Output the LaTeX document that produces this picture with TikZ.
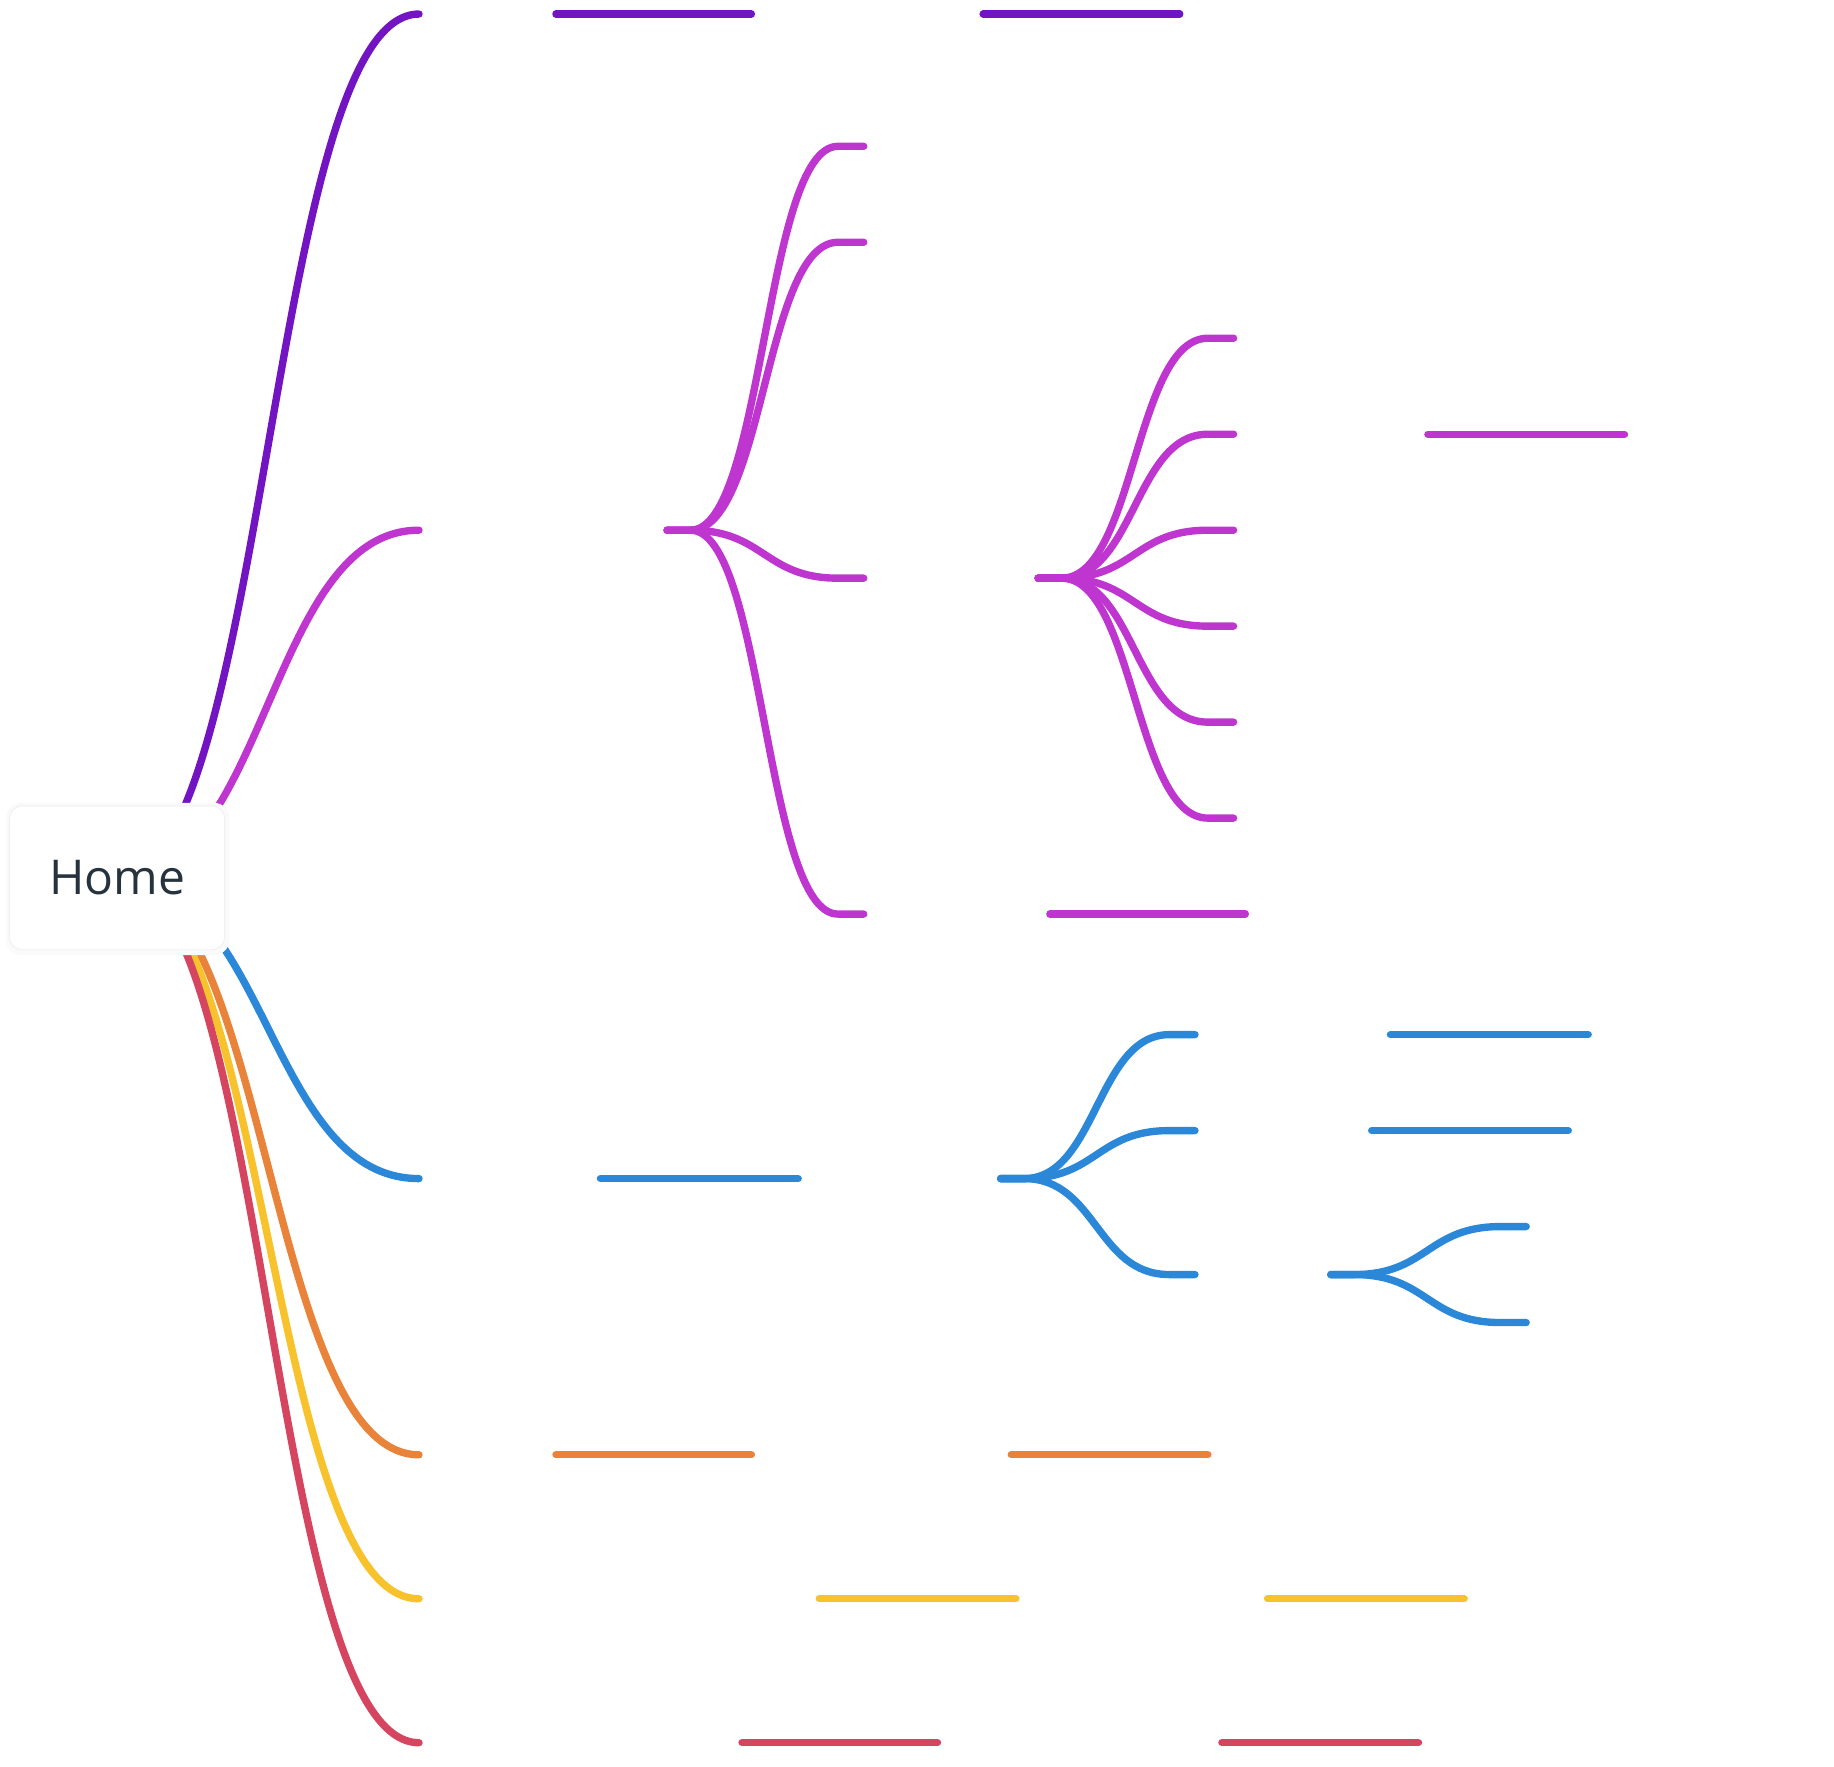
\documentclass[tikz,border=0pt]{standalone}
\usepackage{fontspec}
\setmainfont{Open Sans}
\usetikzlibrary{calc}
\definecolor{cpurple}{RGB}{115,20,195}
\definecolor{cmagenta}{RGB}{191,53,207}
\definecolor{cblue}{RGB}{43,136,216}
\definecolor{corange}{RGB}{233,131,58}
\definecolor{cyellow}{RGB}{247,194,43}
\definecolor{cred}{RGB}{213,69,95}
\definecolor{ctext}{RGB}{38,51,62}
\tikzset{
  link/.style={line width=6.3pt, line cap=round, color=#1},
  ul/.style={line width=6.3pt, line cap=round, color=#1},
  homebox/.style={draw=black!6, line width=0.8pt, fill=white, rounded corners=11pt,
    minimum width=184pt, minimum height=123pt, inner sep=0pt, text=ctext,
    font=\fontsize{41}{49}\selectfont},
}
\newcommand\rootlink[3]{\draw[link=#1] let \p1=(#2), \p2=(#3), \n1={(\x1+\x2)/2} in
  (#2) .. controls (\n1,\y1) and (\n1,\y2) .. (#3);}
\newcommand\fanlink[3]{\draw[link=#1] let \p1=(#2), \p2=(#3), \n1={(\x1+\x2-2pt)/2} in
  (#2) -- (\x1+20pt,\y1) .. controls (\n1,\y1) and (\n1,\y2) .. (\x2-22pt,\y2) -- (#3);}
\begin{document}
\begin{tikzpicture}[x=1pt,y=-1pt]
\useasboundingbox (0,0) rectangle (1567,1509);
% coordinates
\coordinate (root) at (100,750);
\coordinate (t1) at (358,12);
\coordinate (t2) at (358,453);
\coordinate (t3) at (358,1007);
\coordinate (t4) at (358,1243);
\coordinate (t5) at (358,1366);
\coordinate (t6) at (358,1489);
% purple
\coordinate (pa1) at (475,12); \coordinate (pb1) at (642,12);
\coordinate (pa2) at (840,12); \coordinate (pb2) at (1008,12);
% magenta
\coordinate (m0) at (570,453);
\coordinate (m1) at (738,125);
\coordinate (m2) at (738,207);
\coordinate (m3) at (738,494);
\coordinate (m4) at (738,781);
\coordinate (n0) at (887,494);
\coordinate (n1) at (1054,289);
\coordinate (n2) at (1054,371);
\coordinate (n3) at (1054,453);
\coordinate (n4) at (1054,535);
\coordinate (n5) at (1054,617);
\coordinate (n6) at (1054,699);
\coordinate (ma1) at (897,781); \coordinate (mb1) at (1064,781);
\coordinate (ma2) at (1220,371); \coordinate (mb2) at (1388,371);
% blue
\coordinate (ba1) at (513,1007); \coordinate (bb1) at (682,1007);
\coordinate (b0) at (855,1007);
\coordinate (b1) at (1021,884);
\coordinate (b2) at (1021,966);
\coordinate (b3) at (1021,1089);
\coordinate (ba2) at (1188,884); \coordinate (bb2) at (1357,884);
\coordinate (ba3) at (1172,966); \coordinate (bb3) at (1340,966);
\coordinate (c0) at (1137,1089);
\coordinate (c1) at (1304,1048);
\coordinate (c2) at (1304,1130);
% orange
\coordinate (oa1) at (475,1243); \coordinate (ob1) at (642,1243);
\coordinate (oa2) at (864,1243); \coordinate (ob2) at (1032,1243);
% yellow
\coordinate (ya1) at (700,1366); \coordinate (yb1) at (868,1366);
\coordinate (ya2) at (1083,1366); \coordinate (yb2) at (1251,1366);
% red
\coordinate (ra1) at (634,1489); \coordinate (rb1) at (801,1489);
\coordinate (ra2) at (1044,1489); \coordinate (rb2) at (1212,1489);

% top level links
\rootlink{cpurple}{root}{t1}
\rootlink{cmagenta}{root}{t2}
\rootlink{cblue}{root}{t3}
\rootlink{corange}{root}{t4}
\rootlink{cyellow}{root}{t5}
\rootlink{cred}{root}{t6}

% purple
\draw[ul=cpurple] (pa1) -- (pb1);
\draw[ul=cpurple] (pa2) -- (pb2);
% magenta
\fanlink{cmagenta}{m0}{m1}
\fanlink{cmagenta}{m0}{m2}
\fanlink{cmagenta}{m0}{m3}
\fanlink{cmagenta}{m0}{m4}
\fanlink{cmagenta}{n0}{n1}
\fanlink{cmagenta}{n0}{n2}
\fanlink{cmagenta}{n0}{n3}
\fanlink{cmagenta}{n0}{n4}
\fanlink{cmagenta}{n0}{n5}
\fanlink{cmagenta}{n0}{n6}
\draw[ul=cmagenta] (ma1) -- (mb1);
\draw[ul=cmagenta] (ma2) -- (mb2);
% blue
\draw[ul=cblue] (ba1) -- (bb1);
\fanlink{cblue}{b0}{b1}
\fanlink{cblue}{b0}{b2}
\fanlink{cblue}{b0}{b3}
\draw[ul=cblue] (ba2) -- (bb2);
\draw[ul=cblue] (ba3) -- (bb3);
\fanlink{cblue}{c0}{c1}
\fanlink{cblue}{c0}{c2}
% orange
\draw[ul=corange] (oa1) -- (ob1);
\draw[ul=corange] (oa2) -- (ob2);
% yellow
\draw[ul=cyellow] (ya1) -- (yb1);
\draw[ul=cyellow] (ya2) -- (yb2);
% red
\draw[ul=cred] (ra1) -- (rb1);
\draw[ul=cred] (ra2) -- (rb2);

% root box with faint shadow
\fill[black!2, rounded corners=13pt] (5,686) rectangle (196,816);
\node[homebox] (home) at (100,750) {Home};
\end{tikzpicture}
\end{document}
